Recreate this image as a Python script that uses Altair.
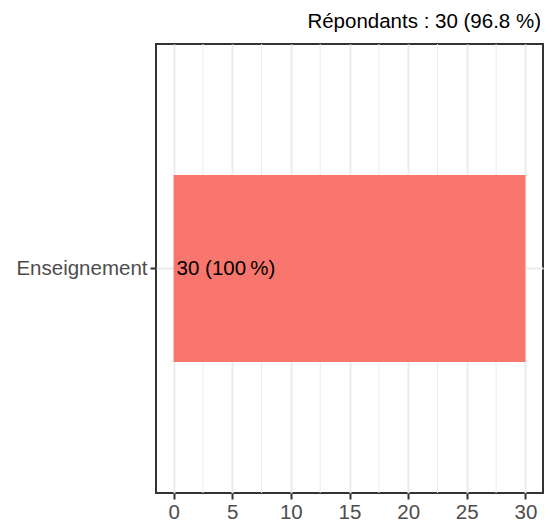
import altair as alt
import pandas as pd

categories = ["Enseignement"]
counts = [30]
labels = ["30 (100\u202f%)"]
major_ticks = [0, 5, 10, 15, 20, 25, 30]
minor_grid = [2.5, 7.5, 12.5, 17.5, 22.5, 27.5]
title_text = "Répondants : 30 (96.8 %)"

FONT = "Liberation Sans"
FS = 20.5
W, H = 387, 449

df = pd.DataFrame({"cat": categories, "n": counts, "label": labels, "zero": [0] * len(categories)})
minor_df = pd.DataFrame({"v": minor_grid})

xscale = alt.Scale(domain=[-1.5, 31.5], nice=False, zero=False)
yscale = alt.Scale(paddingInner=0.5, paddingOuter=0.35)

xaxis = alt.Axis(
    values=major_ticks, title=None, grid=True, gridColor="#EBEBEB", gridWidth=2,
    domain=False, tickColor="#333333", tickWidth=2, tickSize=6,
    labelFontSize=FS, labelColor="#4D4D4D", labelFont=FONT, labelPadding=3,
)
yaxis = alt.Axis(
    title=None, grid=True, gridColor="#EBEBEB", gridWidth=2,
    domain=False, tickColor="#333333", tickWidth=2, tickSize=6,
    labelFontSize=FS, labelColor="#4D4D4D", labelFont=FONT, labelPadding=3,
)

minor = alt.Chart(minor_df).mark_rule(color="#EBEBEB", strokeWidth=1).encode(
    x=alt.X("v:Q", scale=xscale, axis=xaxis),
    y=alt.value(0),
    y2=alt.value(H),
)

bars = alt.Chart(df).mark_bar(color="#F8766D").encode(
    x=alt.X("n:Q", scale=xscale, axis=xaxis),
    x2=alt.X2("zero:Q"),
    y=alt.Y("cat:N", scale=yscale, axis=yaxis),
)

text = alt.Chart(df).mark_text(
    align="left", baseline="middle", dx=3, fontSize=FS, font=FONT, color="black"
).encode(
    x=alt.X("zero:Q", scale=xscale, axis=xaxis),
    y=alt.Y("cat:N", scale=yscale, axis=yaxis),
    text="label:N",
)

chart = (
    alt.layer(minor, bars, text)
    .properties(
        width=W,
        height=H,
        title=alt.TitleParams(
            title_text, anchor="end", fontSize=FS, fontWeight="normal",
            color="black", font=FONT, offset=11, dx=-2,
        ),
        autosize=alt.AutoSizeParams(type="none"),
        padding={"left": 148, "top": 36, "right": 2, "bottom": 29},
    )
    .configure_view(stroke="#333333", strokeWidth=2)
)

chart.save("out.html", embed_options={"renderer": "svg", "actions": False})
